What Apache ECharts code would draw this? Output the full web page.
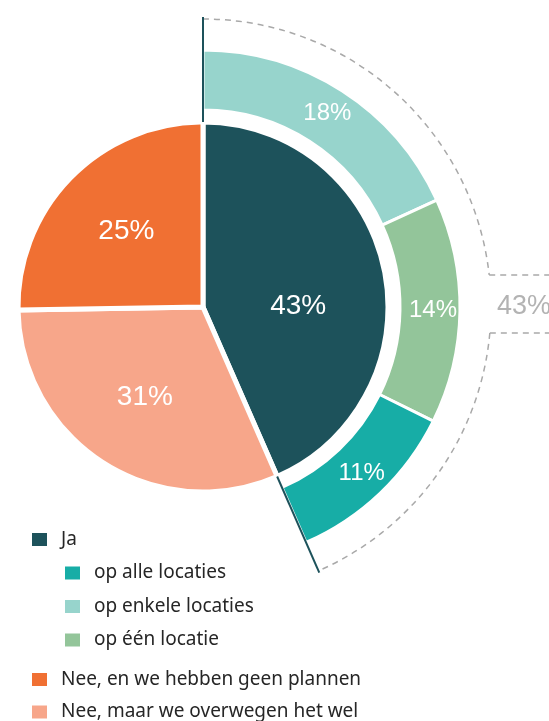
<!DOCTYPE html>
<html>
<head>
<meta charset="utf-8">
<script src="https://cdn.jsdelivr.net/npm/echarts@6/dist/echarts.min.js"></script>
<style>
html, body { margin: 0; padding: 0; background: #fff; }
#chart { width: 549px; height: 721px; }
</style>
</head>
<body>
<div id="chart"></div>
<script>
// inner pie, clockwise from 12 o'clock
var mainNames = ['Ja', 'Nee, maar we overwegen het wel', 'Nee, en we hebben geen plannen'];
var mainValues = [43, 31, 25];
// split of "Ja" on the outer ring, clockwise from 12 o'clock
var jaNames = ['op enkele locaties', 'op één locatie', 'op alle locaties'];
var jaValues = [18, 14, 11];
// legend groups
var legendJa = ['Ja'];
var legendSub = ['op alle locaties', 'op enkele locaties', 'op één locatie'];
var legendNee = ['Nee, en we hebben geen plannen', 'Nee, maar we overwegen het wel'];

var mainColors = ['#1d525b', '#f7a68a', '#f07033'];
var jaColors = ['#97d4cc', '#93c59a', '#17ada6'];
var darkTeal = '#1d525b';
var dashGray = '#a9a9a9';
var pctFont = 'Liberation Sans';
var legendFont = 'Noto Sans';

var cx = 203, cy = 307;
var rPie = 185, rRing = [197, 257], rBracket = 288, rEdge = 290;

var total = mainValues.reduce(function (a, b) { return a + b; }, 0);
var jaSum = jaValues.reduce(function (a, b) { return a + b; }, 0);
var jaAngle = mainValues[0] / total * Math.PI * 2;   // measured from 12 o'clock

function polar(r, a) { // a: clockwise from 12 o'clock
    return [cx + r * Math.sin(a), cy - r * Math.cos(a)];
}

var mainData = mainNames.map(function (n, i) {
    return { name: n, value: mainValues[i], itemStyle: { color: mainColors[i] } };
});
var ringData = jaNames.map(function (n, i) {
    return { name: n, value: jaValues[i], itemStyle: { color: jaColors[i] } };
});
// the "Nee" part of the ring stays empty
ringData.push({ name: '', value: total - jaSum, itemStyle: { color: 'transparent', borderWidth: 0 }, label: { show: false } });

// bracket round the "Ja" ring
var upY = -32, lowY = 26;
var a1 = Math.asin(upY / rBracket), a2 = Math.asin(lowY / rBracket);
var aEnd = jaAngle - Math.PI / 2;
var dashStyle = { stroke: dashGray, lineWidth: 1.5, lineDash: [6, 5], fill: 'none' };
var p0 = polar(rPie, 0), p1 = polar(rEdge, 0);
var q0 = polar(rPie, jaAngle), q1 = polar(rEdge, jaAngle);

var graphics = [
    { type: 'arc', shape: { cx: cx, cy: cy, r: rBracket, startAngle: -Math.PI / 2, endAngle: a1, clockwise: true }, style: dashStyle, z: 10 },
    { type: 'line', shape: { x1: cx + rBracket * Math.cos(a1), y1: cy + upY, x2: 549, y2: cy + upY }, style: dashStyle, z: 10 },
    { type: 'arc', shape: { cx: cx, cy: cy, r: rBracket, startAngle: a2, endAngle: aEnd, clockwise: true }, style: dashStyle, z: 10 },
    { type: 'line', shape: { x1: cx + rBracket * Math.cos(a2), y1: cy + lowY, x2: 549, y2: cy + lowY }, style: dashStyle, z: 10 },
    { type: 'line', shape: { x1: p0[0], y1: p0[1], x2: p1[0], y2: p1[1] }, style: { stroke: darkTeal, lineWidth: 2 }, z: 10 },
    { type: 'line', shape: { x1: q0[0], y1: q0[1], x2: q1[0], y2: q1[1] }, style: { stroke: darkTeal, lineWidth: 2 }, z: 10 },
    { type: 'text', left: 497, top: cy - 14, style: { text: mainValues[0] + '%', fill: '#b3b3b3', font: '27px "' + pctFont + '"' }, z: 10 }
];

var legendText = { fontFamily: legendFont, fontSize: 19, color: '#262626', padding: [0, 0, 0, 8], lineHeight: 16 };
var legendBase = { orient: 'vertical', icon: 'rect', itemWidth: 17, itemHeight: 15, padding: 0, height: 120, selectedMode: false, textStyle: legendText };

var option = {
    animation: false,
    legend: [
        Object.assign({}, legendBase, { data: legendJa, left: 30, top: 530 }),
        Object.assign({}, legendBase, { data: legendSub, left: 63, top: 563.5, itemGap: 14.5 }),
        Object.assign({}, legendBase, { data: legendNee, left: 30, top: 670, itemGap: 13.5 })
    ],
    graphic: graphics,
    series: [
        {
            type: 'pie',
            center: [cx, cy],
            radius: [0, rPie],
            startAngle: 90,
            clockwise: true,
            silent: true,
            label: { show: false },
            itemStyle: { borderColor: '#fff', borderWidth: 5 },
            data: mainData
        },
        {
            // labels of the inner pie, sitting a bit further out than mid-radius
            type: 'pie',
            center: [cx, cy],
            radius: [24, rPie],
            startAngle: 90,
            clockwise: true,
            silent: true,
            itemStyle: { color: 'transparent' },
            label: { show: true, position: 'inside', formatter: '{c}%', color: '#fff', fontSize: 28, fontFamily: pctFont },
            // the big "Ja" label sits lower, level with the centre
            labelLayout: function (params) {
                return params.dataIndex === 0 ? { dx: -10, dy: 21 } : {};
            },
            data: mainNames.map(function (n, i) { return { name: n, value: mainValues[i] }; })
        },
        {
            type: 'pie',
            center: [cx, cy],
            radius: rRing,
            startAngle: 90,
            clockwise: true,
            silent: true,
            itemStyle: { borderColor: '#fff', borderWidth: 3 },
            label: { show: true, position: 'inside', formatter: '{c}%', color: '#fff', fontSize: 24, fontFamily: pctFont },
            data: ringData
        }
    ]
};

var myChart = echarts.init(document.getElementById('chart'));
myChart.setOption(option);
</script>
</body>
</html>
